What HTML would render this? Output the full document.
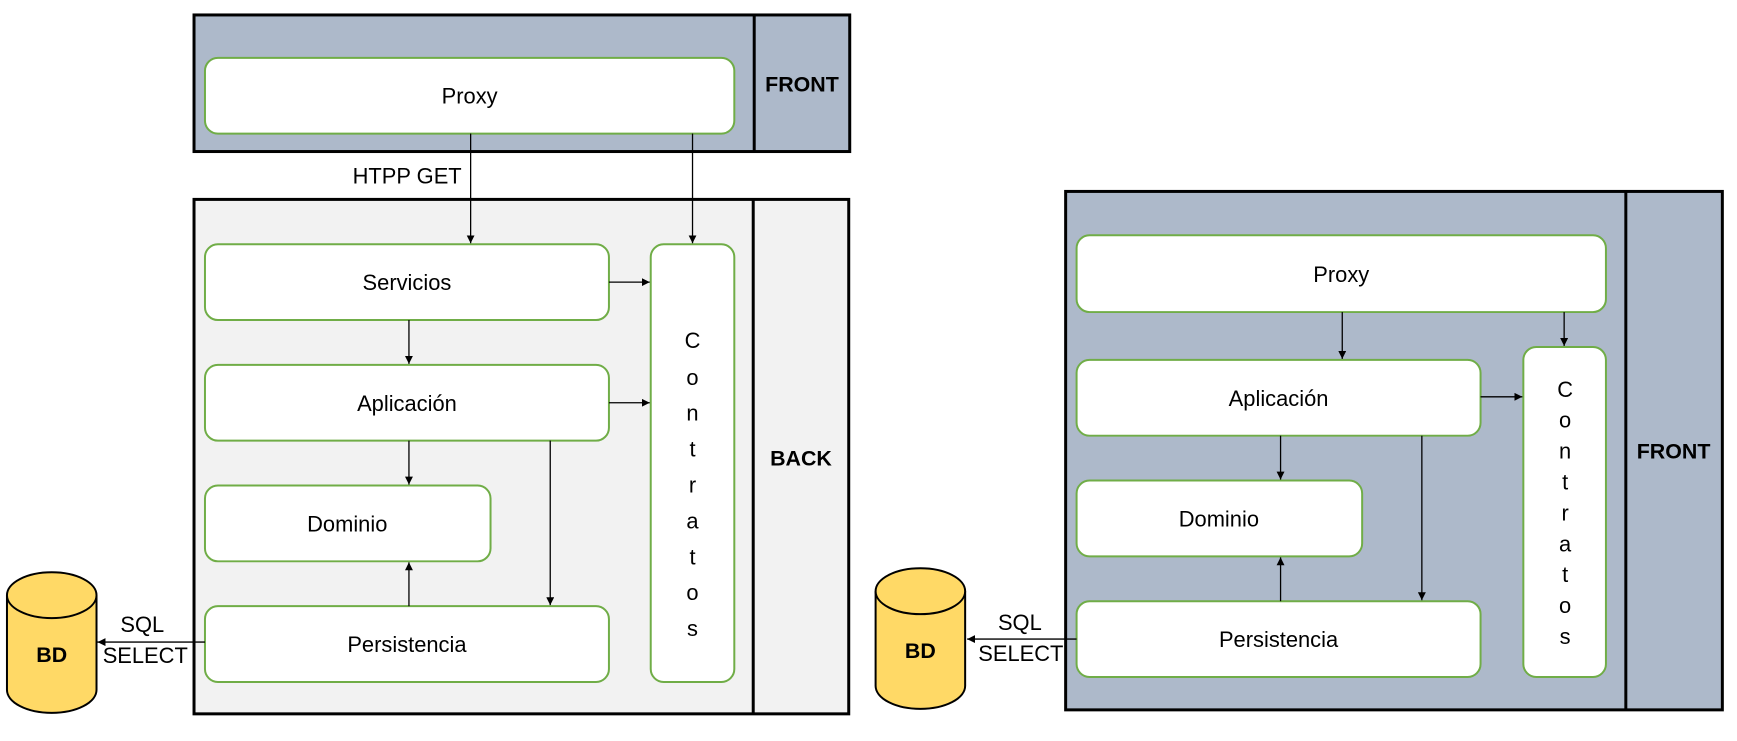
<!DOCTYPE html>
<html><head><meta charset="utf-8"><style>
html,body{margin:0;padding:0;background:#fff;}
svg{display:block;}
text{font-family:"Liberation Sans",sans-serif;fill:#000;}
</style></head><body>
<svg width="1737" height="741" viewBox="0 0 1737 741" xmlns="http://www.w3.org/2000/svg">
<defs>
<marker id="a" markerWidth="8" markerHeight="8" refX="8" refY="4" orient="auto" markerUnits="userSpaceOnUse">
<path d="M0,0 L8,4 L0,8 z" fill="#000"/></marker>
</defs>
<g transform="scale(0.995 0.997)">
<!-- LEFT -->
<rect x="195" y="15" width="659" height="137" fill="#ADB9CA" stroke="#000" stroke-width="3"/>
<line x1="758" y1="15" x2="758" y2="152" stroke="#000" stroke-width="3"/>
<text x="806" y="92" font-size="21.5" font-weight="bold" text-anchor="middle">FRONT</text>
<rect x="206" y="58" width="532" height="76" rx="13" fill="#fff" stroke="#70AD47" stroke-width="2"/>
<text x="472" y="104" font-size="22" text-anchor="middle">Proxy</text>

<rect x="195" y="200" width="658" height="516" fill="#F2F2F2" stroke="#000" stroke-width="3"/>
<line x1="757" y1="200" x2="757" y2="716" stroke="#000" stroke-width="3"/>
<text x="805" y="467" font-size="21.5" font-weight="bold" text-anchor="middle">BACK</text>

<text x="464" y="184" font-size="22" text-anchor="end">HTPP GET</text>

<rect x="206" y="245" width="406" height="76" rx="13" fill="#fff" stroke="#70AD47" stroke-width="2"/>
<text x="409" y="291" font-size="22" text-anchor="middle">Servicios</text>
<rect x="206" y="366" width="406" height="76" rx="13" fill="#fff" stroke="#70AD47" stroke-width="2"/>
<text x="409" y="412" font-size="22" text-anchor="middle">Aplicación</text>
<rect x="206" y="487" width="287" height="76" rx="13" fill="#fff" stroke="#70AD47" stroke-width="2"/>
<text x="349" y="533" font-size="22" text-anchor="middle">Dominio</text>
<rect x="206" y="608" width="406" height="76" rx="13" fill="#fff" stroke="#70AD47" stroke-width="2"/>
<text x="409" y="654" font-size="22" text-anchor="middle">Persistencia</text>
<rect x="654" y="245" width="84" height="439" rx="13" fill="#fff" stroke="#70AD47" stroke-width="2"/>
<g font-size="22" text-anchor="middle">
<text x="696" y="349">C</text><text x="696" y="386">o</text><text x="696" y="422">n</text><text x="696" y="458">t</text><text x="696" y="494">r</text><text x="696" y="530">a</text><text x="696" y="566">t</text><text x="696" y="602">o</text><text x="696" y="638">s</text>
</g>

<g stroke="#000" stroke-width="1.3" fill="none" marker-end="url(#a)">
<line x1="473" y1="134" x2="473" y2="244"/>
<line x1="696" y1="134" x2="696" y2="244"/>
<line x1="612" y1="283" x2="653" y2="283"/>
<line x1="612" y1="404" x2="653" y2="404"/>
<line x1="411" y1="321" x2="411" y2="365"/>
<line x1="411" y1="442" x2="411" y2="486"/>
<line x1="553" y1="442" x2="553" y2="607"/>
<line x1="411" y1="608" x2="411" y2="564"/>
<line x1="206" y1="644" x2="98" y2="644"/>
</g>
<text x="143" y="634" font-size="22" text-anchor="middle">SQL</text>
<text x="146" y="665" font-size="22" text-anchor="middle">SELECT</text>

<path d="M7,597 L7,692 A45,23 0 0 0 97,692 L97,597" fill="#FFD966" stroke="#000" stroke-width="2"/>
<ellipse cx="52" cy="597" rx="45" ry="23" fill="#FFD966" stroke="#000" stroke-width="2"/>
<text x="52" y="664" font-size="21.5" font-weight="bold" text-anchor="middle">BD</text>

<!-- RIGHT -->
<rect x="1071" y="192" width="660" height="520" fill="#ADB9CA" stroke="#000" stroke-width="3"/>
<line x1="1634" y1="192" x2="1634" y2="712" stroke="#000" stroke-width="3"/>
<text x="1682" y="460" font-size="21.5" font-weight="bold" text-anchor="middle">FRONT</text>

<rect x="1082" y="236" width="532" height="77" rx="13" fill="#fff" stroke="#70AD47" stroke-width="2"/>
<text x="1348" y="283" font-size="22" text-anchor="middle">Proxy</text>
<rect x="1082" y="361" width="406" height="76" rx="13" fill="#fff" stroke="#70AD47" stroke-width="2"/>
<text x="1285" y="407" font-size="22" text-anchor="middle">Aplicación</text>
<rect x="1082" y="482" width="287" height="76" rx="13" fill="#fff" stroke="#70AD47" stroke-width="2"/>
<text x="1225" y="528" font-size="22" text-anchor="middle">Dominio</text>
<rect x="1082" y="603" width="406" height="76" rx="13" fill="#fff" stroke="#70AD47" stroke-width="2"/>
<text x="1285" y="649" font-size="22" text-anchor="middle">Persistencia</text>
<rect x="1531" y="348" width="83" height="331" rx="13" fill="#fff" stroke="#70AD47" stroke-width="2"/>
<g font-size="22" text-anchor="middle">
<text x="1573" y="398">C</text><text x="1573" y="429">o</text><text x="1573" y="460">n</text><text x="1573" y="491">t</text><text x="1573" y="522">r</text><text x="1573" y="553">a</text><text x="1573" y="584">t</text><text x="1573" y="615">o</text><text x="1573" y="646">s</text>
</g>
<g stroke="#000" stroke-width="1.3" fill="none" marker-end="url(#a)">
<line x1="1349" y1="313" x2="1349" y2="360"/>
<line x1="1572" y1="313" x2="1572" y2="347"/>
<line x1="1488" y1="398" x2="1530" y2="398"/>
<line x1="1287" y1="437" x2="1287" y2="481"/>
<line x1="1429" y1="437" x2="1429" y2="602"/>
<line x1="1287" y1="603" x2="1287" y2="559"/>
<line x1="1082" y1="641" x2="972" y2="641"/>
</g>
<text x="1025" y="632" font-size="22" text-anchor="middle">SQL</text>
<text x="1026" y="663" font-size="22" text-anchor="middle">SELECT</text>

<path d="M880,593 L880,688 A45,23 0 0 0 970,688 L970,593" fill="#FFD966" stroke="#000" stroke-width="2"/>
<ellipse cx="925" cy="593" rx="45" ry="23" fill="#FFD966" stroke="#000" stroke-width="2"/>
<text x="925" y="660" font-size="21.5" font-weight="bold" text-anchor="middle">BD</text>
</g>
</svg>
</body></html>
